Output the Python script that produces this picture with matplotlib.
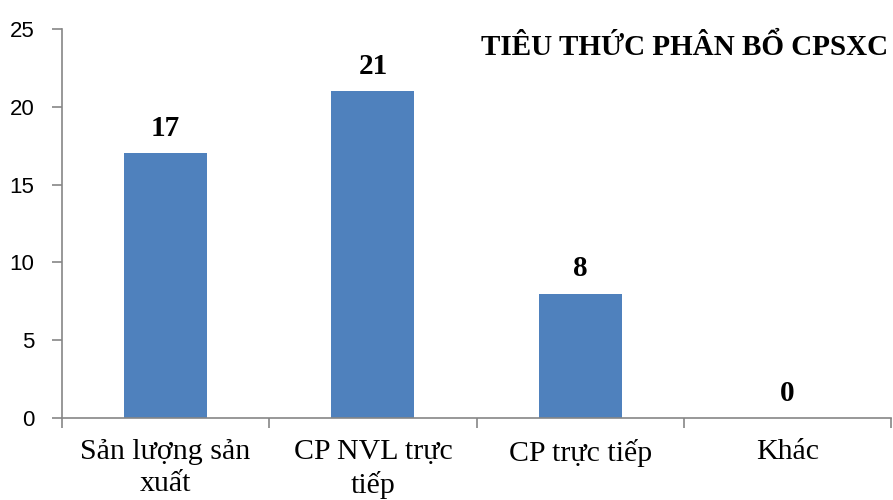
import numpy as np
import matplotlib
matplotlib.use("Agg")
import matplotlib.pyplot as plt

categories = ["Sản lượng sản\nxuất", "CP NVL trực\ntiếp", "CP trực tiếp", "Khác"]
values = [17, 21, 8, 0]
title = "TIÊU THỨC PHÂN BỔ CPSXC"

fig = plt.figure(figsize=(8.93, 5), dpi=100)
ax = fig.add_axes([62 / 893, 1 - 418 / 500, 829 / 893, 389 / 500])

x = np.arange(len(categories))
bars = ax.bar(x, values, width=0.4, color="#4F81BD")

ax.set_xlim(-0.5, len(categories) - 0.5)
ax.set_ylim(0, 25)
ax.set_yticks(range(0, 26, 5))

for s in ["top", "right"]:
    ax.spines[s].set_visible(False)
for s in ["left", "bottom"]:
    ax.spines[s].set_color("#868686")
    ax.spines[s].set_linewidth(1.2)

ax.tick_params(axis="y", direction="out", length=7, color="#868686", width=1.2,
               labelsize=16, pad=13)
for lbl in ax.get_yticklabels():
    lbl.set_family("Liberation Sans")

ax.set_xticks(x)
ax.set_xticklabels(categories, family="Liberation Serif", fontsize=21.5, linespacing=1.3)
ax.tick_params(axis="x", which="major", length=0, pad=15)
ax.set_xticks(np.arange(-0.5, len(categories)), minor=True)
ax.tick_params(axis="x", which="minor", direction="out", length=7, color="#868686", width=1.2)

for b, v in zip(bars, values):
    ax.annotate(str(v), (b.get_x() + b.get_width() / 2, v), xytext=(0, 8),
                textcoords="offset points", ha="center", va="bottom",
                family="Liberation Serif", fontweight="bold", fontsize=21)

fig.text(888 / 893, 1 - 47 / 500, title, ha="right", va="center",
         family="Liberation Serif", fontweight="bold", fontsize=21)

fig.savefig("out.png", dpi=100)
